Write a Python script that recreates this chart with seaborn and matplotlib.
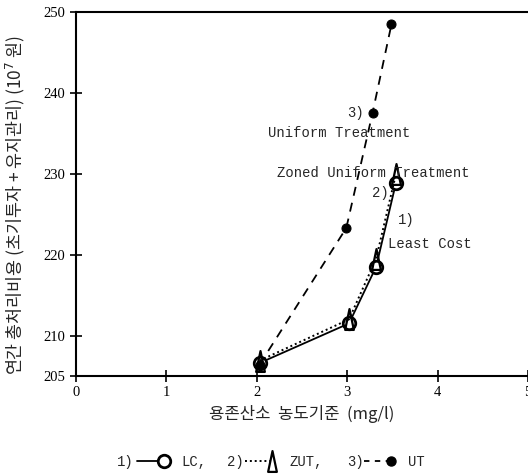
import numpy as np
import pandas as pd
import matplotlib
matplotlib.use("Agg")
import matplotlib.pyplot as plt
import seaborn as sns
from matplotlib.lines import Line2D
from matplotlib.path import Path
from matplotlib.legend_handler import HandlerBase

# ---- data ----
lc_x = [2.03, 3.02, 3.32, 3.54]
lc_y = [206.6, 211.5, 218.5, 228.9]
zut_x = [2.03, 3.02, 3.32, 3.54]
zut_y = [206.9, 212.0, 219.5, 230.0]
ut_x = [2.03, 2.99, 3.28, 3.49]
ut_y = [206.4, 223.3, 237.5, 248.5]
x_ticks = [0, 1, 2, 3, 4, 5]
y_ticks = [205, 210, 220, 230, 240, 250]

sns.set_style("ticks")
plt.rcParams['font.family'] = ['Liberation Serif', 'Noto Sans CJK KR', 'DejaVu Sans']

fig = plt.figure(figsize=(5.28, 4.75), dpi=100)
ax = fig.add_axes([76/528, 1-376/475, 1-76/528, (376-12)/475])

tri = Path([(-0.42, -1), (0.42, -1), (0, 1), (-0.42, -1)],
           [Path.MOVETO, Path.LINETO, Path.LINETO, Path.CLOSEPOLY])

sns.lineplot(x=lc_x, y=lc_y, ax=ax, color='black', linewidth=1.3,
             marker='o', markersize=9, markerfacecolor='white',
             markeredgecolor='black', markeredgewidth=2.0)
sns.lineplot(x=zut_x, y=zut_y, ax=ax, color='black', linewidth=1.4,
             linestyle=(0, (1, 1.5)), marker=tri, markersize=15,
             markerfacecolor='none', markeredgecolor='black', markeredgewidth=1.6)
sns.lineplot(x=ut_x, y=ut_y, ax=ax, color='black', linewidth=1.3,
             linestyle=(0, (5, 4)), marker='o', markersize=6.5,
             markerfacecolor='black', markeredgecolor='black')

ax.set_xlim(0, 5)
ax.set_ylim(205, 250)
ax.set_xticks(x_ticks)
ax.set_yticks(y_ticks)
ax.set_xticklabels([str(v) for v in x_ticks])
ax.set_yticklabels([str(v) for v in y_ticks])
ax.tick_params(direction='inout', length=8, width=1.2, labelsize=10.5, colors='black')
for s in ['left', 'bottom', 'top']:
    ax.spines[s].set_visible(True)
    ax.spines[s].set_linewidth(1.5)
    ax.spines[s].set_color('black')
ax.spines['right'].set_visible(False)

mono = 'Liberation Mono'
ax.text(2.995, 237.5, '3)', family=mono, fontsize=10, va='center', ha='left')
ax.text(2.12, 235.0, 'Uniform Treatment', family=mono, fontsize=10, va='center', ha='left')
ax.text(2.22, 230.1, 'Zoned Uniform Treatment', family=mono, fontsize=10, va='center', ha='left')
ax.text(3.27, 227.6, '2)', family=mono, fontsize=10, va='center', ha='left')
ax.text(3.56, 224.3, '1)', family=mono, fontsize=10, va='center', ha='left')
ax.text(3.45, 221.3, 'Least Cost', family=mono, fontsize=10, va='center', ha='left')

ax.set_ylabel('연간 총처리비용 (초기투자 + 유지관리) (10$^7$ 원)',
              family=['Noto Sans CJK KR', 'DejaVu Sans'], fontsize=12.5)
ax.yaxis.set_label_coords((15-76)/452, (376-205)/364)
ax.yaxis.label.set_va('center')
ax.set_xlabel('용존산소  농도기준  (mg/l)', family=['Noto Sans CJK KR', 'DejaVu Sans'], fontsize=12)
ax.xaxis.set_label_coords(0.5, (376-414)/364)
ax.xaxis.label.set_va('center')


class EndMarker(HandlerBase):
    def create_artists(self, legend, orig_handle, xdescent, ydescent,
                       width, height, fontsize, trans):
        y = (height - ydescent) / 2
        line = Line2D([-xdescent, -xdescent + width * 0.8], [y, y])
        line.update_from(orig_handle)
        line.set_marker('None')
        mk = Line2D([-xdescent + width * 0.85], [y])
        mk.update_from(orig_handle)
        mk.set_linestyle('None')
        line.set_transform(trans)
        mk.set_transform(trans)
        return [line, mk]


h1 = Line2D([], [], color='black', linewidth=1.3, marker='o', markersize=9,
            markerfacecolor='white', markeredgewidth=2.0)
h2 = Line2D([], [], color='black', linewidth=1.4, linestyle=(0, (1, 1.5)), marker=tri,
            markersize=15, markerfacecolor='none', markeredgewidth=1.6)
h3 = Line2D([], [], color='black', linewidth=1.3, linestyle=(0, (3, 3)), marker='o',
            markersize=6.5, markerfacecolor='black')

ly = 1 - 462/475
entries = [('1)', h1, 'LC,', 117, 137), ('2)', h2, 'ZUT,', 227, 245), ('3)', h3, 'UT', 347, 364)]
for num, h, lab, px, hx in entries:
    fig.text(px/528, ly, num, family=mono, fontsize=10, va='center', ha='left')
    fig.legend([h], [lab], loc='center left', bbox_to_anchor=(hx/528, ly),
               frameon=False, handlelength=2.3, handletextpad=0.9,
               borderpad=0, borderaxespad=0,
               prop={'family': mono, 'size': 10},
               handler_map={Line2D: EndMarker()})

fig.savefig('out.png', dpi=100)
